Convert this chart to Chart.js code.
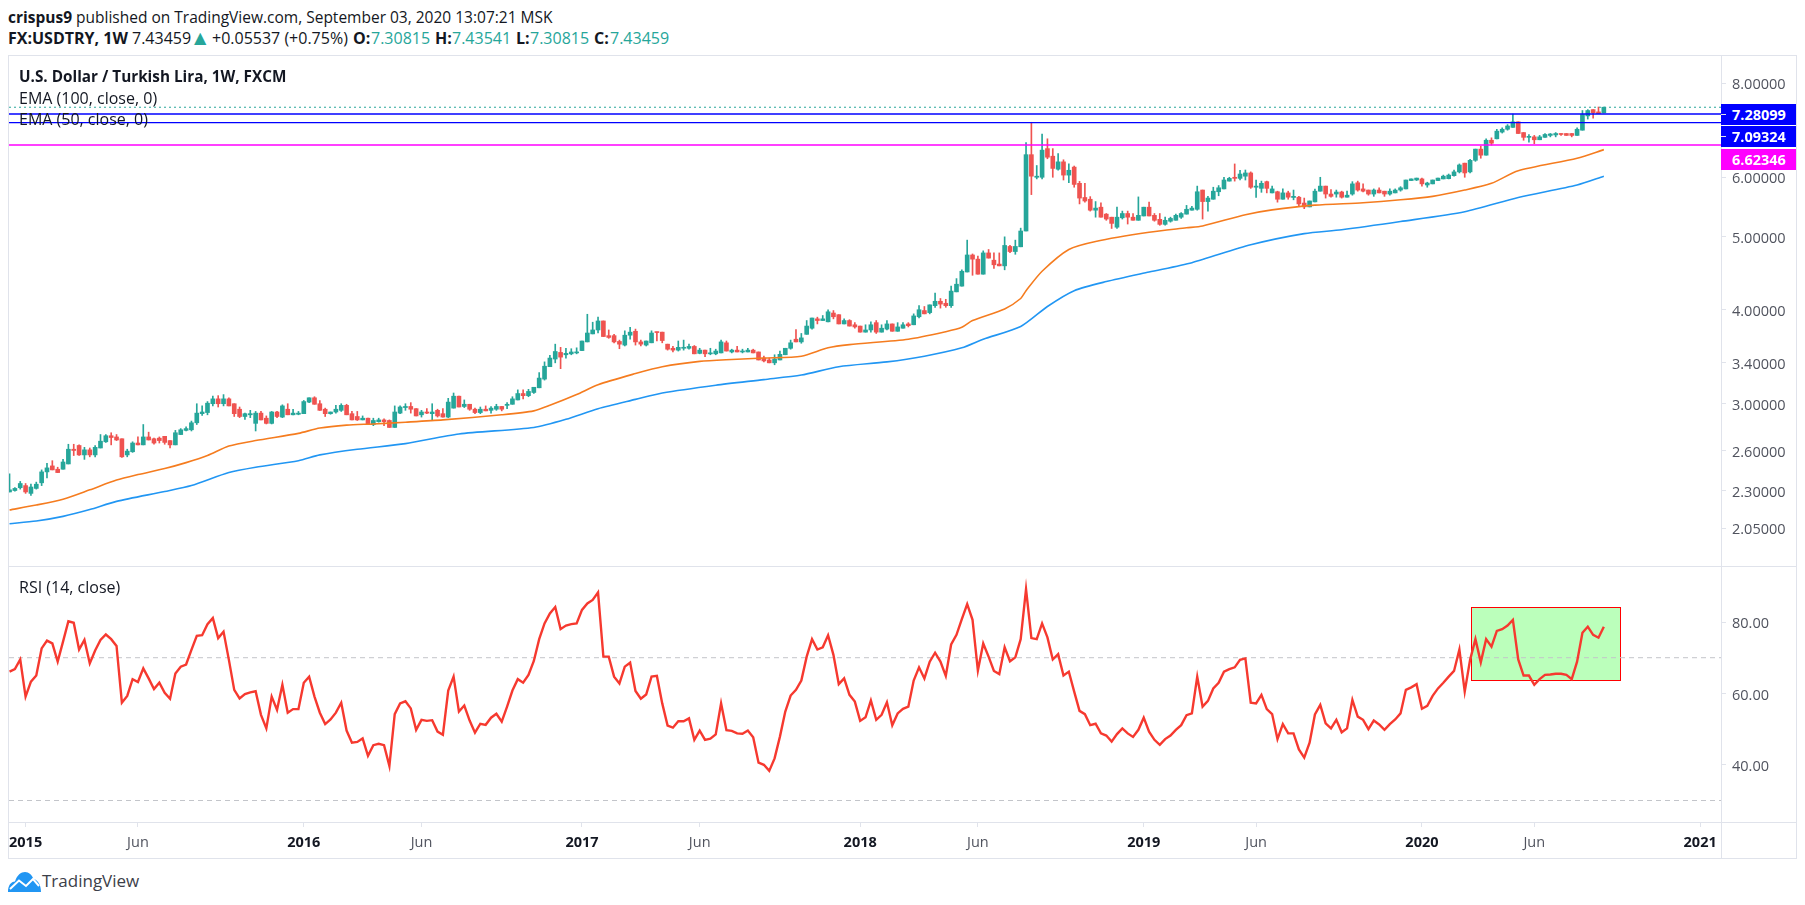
<!DOCTYPE html>
<html>
<head>
<meta charset="utf-8">
<title>USDTRY weekly</title>
<script src="https://cdn.jsdelivr.net/npm/chart.js@4/dist/chart.umd.min.js"></script>
<style>
  html, body { margin: 0; background: #fff; }
  body { width: 1805px; height: 905px; position: relative; overflow: hidden; font-family: "Open Sans", sans-serif; color: #131722; }
  .t { position: absolute; white-space: nowrap; line-height: 20px; font-size: 16px; }
  .b { font-weight: 700; }
  .up { color: #26a69a; }
  .rule { position: absolute; background: #e0e3eb; }
  canvas { position: absolute; left: 0; }
  .tag { position: absolute; left: 1721px; width: 75px; height: 21px; color: #fff; font-weight: 700; font-size: 14.5px; line-height: 21px; text-indent: 11px; }
  .tag i { position: absolute; left: 0; top: 10px; width: 5px; height: 1px; background: #e0e3eb; }
</style>
</head>
<body>

<div class="rule" style="left:8px;top:55px;width:1789px;height:1px"></div>
<div class="rule" style="left:8px;top:566px;width:1789px;height:1px"></div>
<div class="rule" style="left:8px;top:822px;width:1789px;height:1px"></div>
<div class="rule" style="left:8px;top:858px;width:1789px;height:1px"></div>
<div class="rule" style="left:8px;top:55px;width:1px;height:804px"></div>
<div class="rule" style="left:1721px;top:55px;width:1px;height:804px"></div>
<div class="rule" style="left:1796px;top:55px;width:1px;height:804px"></div>

<canvas id="price"></canvas>
<canvas id="rsi"></canvas>

<div class="t" style="left:8px;top:7px;font-size:15.5px"><span class="b">crispus9</span> published on TradingView.com, September 03, 2020 13:07:21 MSK</div>
<div class="t b" style="left:8px;top:28px">FX:USDTRY, 1W</div>
<div class="t" style="left:132px;top:28px">7.43459</div>
<div class="t up" style="left:194px;top:28px;font-family:'DejaVu Sans'">▲</div>
<div class="t" style="left:212px;top:28px">+0.05537 (+0.75%)</div>
<div class="t b" style="left:353px;top:28px">O:</div><div class="t up" style="left:371px;top:28px">7.30815</div>
<div class="t b" style="left:435px;top:28px">H:</div><div class="t up" style="left:452px;top:28px">7.43541</div>
<div class="t b" style="left:516px;top:28px">L:</div><div class="t up" style="left:530px;top:28px">7.30815</div>
<div class="t b" style="left:594px;top:28px">C:</div><div class="t up" style="left:610px;top:28px">7.43459</div>

<div class="t b" style="left:19px;top:66px;font-size:15.3px">U.S. Dollar / Turkish Lira, 1W, FXCM</div>
<div class="t" style="left:19px;top:88px">EMA (100, close, 0)</div>
<div class="t" style="left:19px;top:109px">EMA (50, close, 0)</div>
<div class="t" style="left:19px;top:577px">RSI (14, close)</div>

<div class="tag" style="top:104px;background:#0000ff"><i></i>7.28099</div>
<div class="tag" style="top:126px;background:#0000ff"><i></i>7.09324</div>
<div class="tag" style="top:149px;background:#ff00ff">6.62346</div>

<svg style="position:absolute;left:8px;top:872px" width="33" height="20" viewBox="0 0 33 20">
  <path d="M0 20 C0 13 3 10 7 9.5 C9 3 13 0 17 0 C21 0 24 3 25.5 7 C30 8 33 13 33 20 Z" fill="#2196f3"/>
  <path d="M2 17 L11 8.5 L18 14 L25 7 L31 14" fill="none" stroke="#fff" stroke-width="2"/>
</svg>
<div class="t" style="left:42px;top:871px;font-size:17px;color:#3c4049">TradingView</div>

<script>
// ── weekly candles, Dec 2014 → Aug 2020, one value per week ──
const opens = [
  2.29,2.30,2.32,2.335,2.28,2.315,2.355,2.435,2.48,2.455,
  2.455,2.495,2.61,2.64,2.565,2.605,2.565,2.62,2.67,2.72,
  2.71,2.695,2.565,2.59,2.66,2.645,2.71,2.695,2.70,2.715,
  2.68,2.645,2.73,2.765,2.77,2.83,2.91,2.92,3.00,3.045,
  3.00,3.045,3.00,2.95,2.885,2.90,2.825,2.915,2.87,2.825,
  2.925,2.88,2.95,2.90,2.905,2.91,3.015,3.055,3.00,2.95,
  2.91,2.925,2.94,2.985,2.91,2.885,2.855,2.87,2.815,2.84,
  2.855,2.85,2.79,2.915,2.965,2.975,2.955,2.90,2.925,2.91,
  2.94,2.91,2.88,2.96,3.07,2.975,2.995,2.95,2.92,2.95,
  2.94,2.95,2.975,2.985,2.995,3.035,3.095,3.075,3.105,3.15,
  3.235,3.36,3.44,3.51,3.485,3.495,3.505,3.53,3.625,3.715,
  3.76,3.865,3.695,3.695,3.63,3.59,3.70,3.745,3.625,3.59,
  3.615,3.735,3.735,3.60,3.555,3.535,3.555,3.555,3.575,3.50,
  3.535,3.495,3.495,3.505,3.615,3.515,3.535,3.515,3.515,3.535,
  3.515,3.45,3.43,3.40,3.43,3.485,3.555,3.655,3.625,3.71,
  3.78,3.89,3.87,3.855,3.96,3.94,3.83,3.87,3.82,3.805,
  3.735,3.76,3.845,3.735,3.77,3.83,3.745,3.78,3.83,3.82,
  3.915,3.99,3.965,4.05,4.105,4.08,4.05,4.225,4.30,4.49,
  4.73,4.67,4.46,4.76,4.655,4.60,4.575,4.855,4.78,4.85,
  5.09,6.43,6.00,6.00,6.55,6.40,6.15,6.29,6.04,6.19,
  5.89,5.64,5.61,5.425,5.475,5.36,5.31,5.15,5.30,5.37,
  5.31,5.26,5.33,5.475,5.34,5.275,5.195,5.245,5.26,5.31,
  5.36,5.425,5.44,5.77,5.57,5.61,5.74,5.79,5.93,6.00,
  5.98,6.02,6.08,5.82,5.80,5.92,5.72,5.74,5.61,5.72,
  5.64,5.645,5.545,5.48,5.565,5.75,5.84,5.70,5.70,5.735,
  5.645,5.70,5.90,5.79,5.77,5.70,5.77,5.75,5.70,5.72,
  5.77,5.79,5.94,5.95,5.97,5.86,5.88,5.94,5.97,5.975,
  6.03,6.10,6.265,6.10,6.32,6.54,6.42,6.72,6.75,6.89,
  6.95,6.99,7.11,6.88,6.78,6.79,6.73,6.78,6.82,6.83,
  6.86,6.86,6.86,6.82,6.93,7.24,7.38,7.33,7.30815
];
const highs = [
  2.42,2.32,2.365,2.35,2.345,2.36,2.45,2.50,2.52,2.47,
  2.53,2.65,2.65,2.645,2.625,2.62,2.64,2.73,2.73,2.745,
  2.73,2.695,2.61,2.67,2.71,2.815,2.75,2.70,2.71,2.715,
  2.68,2.765,2.78,2.795,2.845,3.00,2.98,3.02,3.07,3.075,
  3.085,3.055,3.00,2.97,2.915,2.94,2.93,2.93,2.89,2.93,
  2.93,2.99,3.00,2.95,2.93,3.03,3.055,3.065,3.03,2.96,
  2.925,2.985,3.00,2.995,2.93,2.93,2.89,2.87,2.87,2.87,
  2.865,2.855,2.98,2.98,3.00,3.01,2.955,2.94,2.955,3.00,
  2.95,2.955,3.05,3.10,3.07,3.035,2.995,2.96,2.97,2.98,
  2.975,2.995,2.975,3.01,3.065,3.13,3.13,3.135,3.155,3.30,
  3.41,3.48,3.60,3.565,3.555,3.55,3.56,3.635,3.945,3.85,
  3.91,3.865,3.76,3.71,3.645,3.75,3.79,3.77,3.645,3.635,
  3.75,3.735,3.735,3.60,3.575,3.635,3.645,3.60,3.585,3.555,
  3.535,3.555,3.545,3.645,3.635,3.545,3.575,3.545,3.555,3.545,
  3.515,3.47,3.45,3.485,3.525,3.555,3.645,3.765,3.72,3.87,
  3.90,3.91,3.93,4.00,3.99,3.94,3.89,3.88,3.845,3.805,
  3.82,3.855,3.87,3.82,3.87,3.83,3.845,3.845,3.845,3.95,
  4.05,4.04,4.06,4.21,4.14,4.13,4.30,4.40,4.52,4.95,
  4.745,4.715,4.79,4.81,4.76,4.76,5.00,4.87,4.95,5.135,
  6.67,7.10,6.22,6.85,6.75,6.55,6.45,6.33,6.25,6.21,
  5.925,5.89,5.655,5.57,5.55,5.37,5.31,5.475,5.41,5.41,
  5.37,5.65,5.475,5.56,5.37,5.37,5.31,5.31,5.36,5.385,
  5.505,5.49,5.84,5.77,5.66,5.82,5.85,6.00,6.00,6.25,
  6.13,6.135,6.10,5.95,5.93,5.93,5.84,5.75,5.79,5.75,
  5.77,5.66,5.63,5.58,5.785,6.00,5.84,5.78,5.77,5.75,
  5.75,5.92,5.93,5.88,5.77,5.79,5.81,5.75,5.79,5.79,
  5.83,5.95,5.97,5.985,5.985,5.91,5.95,5.985,6.04,6.06,
  6.135,6.25,6.265,6.34,6.54,6.60,6.75,6.77,6.95,6.98,
  7.05,7.28,7.11,6.88,6.84,6.82,6.82,6.86,6.86,6.88,
  6.86,6.86,6.86,6.98,7.36,7.38,7.38,7.44,7.43541
];
const lows = [
  2.29,2.295,2.31,2.28,2.265,2.31,2.335,2.39,2.45,2.43,
  2.455,2.495,2.56,2.56,2.53,2.55,2.55,2.62,2.665,2.645,
  2.68,2.545,2.55,2.585,2.645,2.645,2.685,2.65,2.66,2.65,
  2.62,2.645,2.73,2.76,2.76,2.815,2.895,2.90,2.98,2.97,
  2.98,2.98,2.885,2.875,2.86,2.875,2.76,2.855,2.82,2.82,
  2.875,2.875,2.90,2.90,2.90,2.91,3.01,2.995,2.94,2.885,
  2.905,2.915,2.93,2.90,2.855,2.85,2.855,2.815,2.805,2.835,
  2.805,2.79,2.79,2.91,2.94,2.915,2.89,2.88,2.91,2.855,
  2.88,2.88,2.875,2.96,2.97,2.965,2.94,2.91,2.91,2.935,
  2.915,2.94,2.935,2.955,2.995,3.035,3.045,3.065,3.095,3.15,
  3.225,3.36,3.40,3.34,3.45,3.485,3.495,3.53,3.625,3.715,
  3.725,3.685,3.665,3.615,3.55,3.58,3.655,3.59,3.58,3.58,
  3.615,3.635,3.615,3.535,3.515,3.525,3.535,3.545,3.495,3.495,
  3.465,3.485,3.485,3.505,3.525,3.505,3.515,3.505,3.515,3.505,
  3.43,3.41,3.40,3.38,3.43,3.485,3.545,3.625,3.61,3.71,
  3.77,3.83,3.87,3.855,3.89,3.83,3.83,3.805,3.78,3.735,
  3.735,3.735,3.72,3.735,3.76,3.745,3.745,3.78,3.795,3.82,
  3.90,3.95,3.95,4.03,4.02,4.03,4.03,4.225,4.30,4.49,
  4.445,4.46,4.46,4.685,4.54,4.575,4.52,4.765,4.74,4.85,
  5.09,5.69,5.97,5.97,6.35,6.00,6.13,5.95,5.90,5.82,
  5.53,5.56,5.41,5.31,5.31,5.26,5.13,5.13,5.28,5.20,
  5.26,5.26,5.33,5.33,5.245,5.18,5.18,5.23,5.26,5.29,
  5.36,5.425,5.425,5.28,5.41,5.61,5.67,5.79,5.93,5.93,
  5.95,5.95,5.80,5.64,5.73,5.72,5.72,5.56,5.61,5.61,
  5.60,5.50,5.45,5.48,5.565,5.75,5.63,5.645,5.645,5.63,
  5.645,5.68,5.75,5.735,5.68,5.66,5.72,5.66,5.68,5.72,
  5.75,5.79,5.94,5.94,5.84,5.82,5.88,5.94,5.97,5.97,
  6.02,6.08,6.00,6.08,6.30,6.36,6.42,6.62,6.75,6.87,
  6.93,6.99,6.86,6.72,6.68,6.65,6.73,6.78,6.79,6.79,
  6.82,6.82,6.79,6.82,6.93,7.17,7.19,7.29,7.30815
];
const closes = [
  2.305,2.315,2.35,2.29,2.325,2.345,2.435,2.465,2.45,2.43,
  2.51,2.61,2.60,2.565,2.605,2.565,2.625,2.675,2.72,2.705,
  2.685,2.55,2.595,2.66,2.645,2.71,2.685,2.66,2.68,2.665,
  2.645,2.745,2.77,2.78,2.83,2.915,2.925,3.005,3.045,3.00,
  3.045,2.98,2.91,2.885,2.91,2.91,2.915,2.855,2.825,2.925,
  2.885,2.98,2.90,2.915,2.915,3.02,3.055,2.995,2.94,2.91,
  2.925,2.95,2.985,2.90,2.855,2.855,2.87,2.815,2.85,2.855,
  2.84,2.79,2.925,2.97,2.975,2.95,2.89,2.925,2.915,2.925,
  2.89,2.88,3.015,3.07,2.97,2.995,2.95,2.92,2.95,2.935,
  2.96,2.975,2.95,2.995,3.045,3.095,3.075,3.115,3.155,3.245,
  3.365,3.45,3.52,3.46,3.50,3.515,3.515,3.635,3.725,3.76,
  3.865,3.685,3.675,3.625,3.60,3.70,3.735,3.625,3.60,3.635,
  3.725,3.73,3.64,3.545,3.535,3.565,3.565,3.575,3.495,3.535,
  3.495,3.505,3.525,3.625,3.525,3.535,3.515,3.525,3.535,3.505,
  3.43,3.42,3.40,3.44,3.49,3.555,3.615,3.625,3.67,3.805,
  3.90,3.87,3.89,3.975,3.915,3.83,3.87,3.805,3.795,3.735,
  3.76,3.82,3.735,3.78,3.83,3.745,3.795,3.82,3.81,3.925,
  4.00,3.95,4.06,4.105,4.07,4.05,4.235,4.325,4.50,4.73,
  4.67,4.46,4.76,4.685,4.59,4.575,4.87,4.78,4.855,5.09,
  6.43,6.02,6.02,6.52,6.38,6.165,6.29,6.04,6.13,5.87,
  5.63,5.58,5.425,5.46,5.31,5.28,5.21,5.31,5.37,5.31,
  5.26,5.34,5.475,5.33,5.26,5.195,5.26,5.29,5.34,5.37,
  5.44,5.46,5.74,5.57,5.63,5.75,5.81,5.95,5.98,5.98,
  6.06,6.08,5.82,5.84,5.89,5.80,5.79,5.61,5.72,5.645,
  5.66,5.53,5.48,5.58,5.75,5.84,5.70,5.66,5.735,5.645,
  5.68,5.88,5.77,5.75,5.70,5.77,5.72,5.70,5.75,5.77,
  5.81,5.95,5.97,5.985,5.88,5.895,5.95,5.985,6.02,6.04,
  6.10,6.23,6.08,6.32,6.54,6.42,6.72,6.66,6.91,6.95,
  7.02,7.11,6.86,6.78,6.79,6.73,6.79,6.84,6.85,6.86,
  6.84,6.82,6.82,6.95,7.27,7.36,7.31,7.29,7.43459
];

// EMA lines, read at the weeks where the curve bends
const ema50Weeks = [0,5,10,15,20,24,29,33,37,41,46,54,58,63,68,74,81,92,98,101,106,110,117,122,129,135,141,148,153,157,168,175,178,180,186,189,190,193,198,203,213,220,223,231,236,244,253,260,266,272,277,282,293,298];
const ema50 = [2.167,2.20,2.24,2.305,2.375,2.415,2.46,2.505,2.56,2.635,2.68,2.74,2.785,2.81,2.82,2.835,2.855,2.90,2.935,2.985,3.085,3.18,3.29,3.36,3.415,3.435,3.45,3.47,3.56,3.595,3.655,3.74,3.79,3.87,4.01,4.14,4.24,4.50,4.81,4.93,5.07,5.14,5.17,5.35,5.43,5.51,5.55,5.60,5.66,5.77,5.89,6.12,6.36,6.53];
const ema100Weeks = [0,5,10,15,20,29,34,41,46,54,58,65,74,84,98,104,110,117,122,132,141,148,155,164,171,178,182,189,194,199,205,213,221,232,242,249,260,272,282,293,298];
const ema100 = [2.078,2.095,2.125,2.17,2.225,2.293,2.335,2.43,2.47,2.52,2.565,2.61,2.655,2.735,2.79,2.86,2.955,3.04,3.10,3.175,3.23,3.275,3.36,3.41,3.47,3.56,3.655,3.80,4.04,4.24,4.36,4.49,4.62,4.88,5.05,5.11,5.24,5.40,5.64,5.86,6.02];

// RSI (14), one value per week
const rsi = [
  66.1,66.8,69.5,59.1,63.3,65.0,72.6,74.8,74.0,68.9,
  74.5,80.2,79.8,72.3,75.0,68.4,72.0,75.0,76.5,75.2,
  73.3,57.4,59.3,64.0,63.2,67.0,64.2,61.2,63.0,60.2,
  58.5,65.6,67.5,68.1,72.2,76.1,76.3,79.4,81.1,75.5,
  77.3,69.4,61.0,58.6,59.8,60.3,60.6,54.0,50.2,59.1,
  55.4,62.4,54.6,55.6,55.6,63.0,64.7,59.1,54.6,51.4,
  52.7,54.6,57.4,49.6,46.2,46.4,47.4,42.5,45.5,45.9,
  45.5,39.7,54.2,57.2,57.8,55.8,49.8,52.6,52.3,52.5,
  49.3,48.4,60.8,64.7,54.9,56.6,52.4,49.0,51.5,51.2,
  53.2,54.3,52.1,56.3,60.8,64.0,63.0,65.2,69.1,75.2,
  79.6,82.4,84.2,78.0,79.0,79.4,79.6,83.4,85.2,86.2,
  88.3,70.3,70.3,64.7,62.8,67.5,68.6,60.7,58.5,59.7,
  64.7,64.9,57.2,51.0,50.4,52.2,52.2,53.0,47.0,49.6,
  47.0,47.3,48.5,57.2,49.7,49.5,48.8,48.7,49.6,47.7,
  40.6,40.0,38.3,41.8,47.9,54.9,59.4,61.0,63.6,70.3,
  75.2,72.3,72.9,76.3,70.8,62.6,64.2,59.6,57.7,52.3,
  53.3,58.0,52.6,54.0,57.5,51.1,54.4,55.7,56.3,63.6,
  67.3,64.2,68.9,71.4,68.9,64.9,73.7,76.4,80.8,85.0,
  80.6,66.4,74.0,70.3,66.3,65.4,72.9,69.0,70.1,75.2,
  89.2,75.5,75.2,79.6,75.7,69.5,71.0,65.0,66.1,60.5,
  55.1,54.2,51.1,51.5,48.8,48.2,46.5,48.6,50.2,48.8,
  47.8,49.8,53.2,49.3,47.0,45.6,47.2,48.2,49.8,51.1,
  53.9,54.4,64.7,56.3,57.9,61.4,63.0,66.1,66.8,67.3,
  69.4,69.8,57.4,57.2,59.6,55.6,54.2,47.2,51.4,48.8,
  48.8,44.3,42.0,46.2,54.1,56.8,51.6,50.2,52.6,49.1,
  50.2,58.2,53.5,52.6,50.0,52.4,51.3,49.8,51.4,52.7,
  54.4,61.0,61.7,62.6,55.7,56.5,59.3,61.4,63.0,64.7,
  66.3,72.3,60.5,69.4,75.2,68.7,75.2,73.1,77.5,78.0,
  79.0,80.6,69.5,65.0,65.0,62.4,64.0,65.2,65.3,65.5,
  65.5,65.2,64.0,68.9,77.0,78.7,76.4,75.6,78.7
];

// drawn levels, axis ticks, highlighted RSI box
const lastPrice = 7.43459;
const blueLevels = [7.28099, 7.09324];
const pinkLevel = 6.62346;
const rsiBands = [70, 30];
const priceTicks = [2.05, 2.3, 2.6, 3, 3.4, 4, 5, 6, 8];
const rsiTicks = [40, 60, 80];
const timeTickWeeks = [3, 24, 55, 77, 107, 129, 159, 181, 212, 233, 264, 285, 316];
const timeTickLabels = ['2015', 'Jun', '2016', 'Jun', '2017', 'Jun', '2018', 'Jun', '2019', 'Jun', '2020', 'Jun', '2021'];
const boxWeeks = [273.1, 301.1];
const boxRsi = [84.1, 63.7];

const UP = '#26a69a', DOWN = '#ef5350', RULE = '#e0e3eb', FONT = '"Open Sans", sans-serif';
const X_MIN = -0.1, X_MAX = 319.9;   // same window on both panes

Chart.defaults.font.family = FONT;
Chart.defaults.animation = false;
Chart.defaults.devicePixelRatio = 1;
Chart.defaults.responsive = false;

const candleColor = closes.map((c, i) => c >= opens[i] ? UP : DOWN);
const flat = (y) => [{ x: X_MIN, y }, { x: X_MAX, y }];
const level = (y, color, dash) => ({
  type: 'line', data: flat(y), borderColor: color, borderWidth: dash ? 1 : 1.4, borderDash: dash || [],
  pointRadius: 0, order: 0,
});
const emaLine = (weeks, vals, color) => ({
  type: 'line', data: weeks.map((w, i) => ({ x: w, y: vals[i] })), borderColor: color,
  borderWidth: 1.6, pointRadius: 0, tension: 0.25, order: 1,
});

const sharedX = { type: 'linear', min: X_MIN, max: X_MAX, offset: false };
const rightAxis = (ticks, fmt) => ({
  position: 'right',
  border: { display: false },
  grid: { drawOnChartArea: false, drawTicks: true, tickLength: 5, tickColor: RULE },
  ticks: { autoSkip: false, padding: 6, labelOffset: 2, color: '#50535e', font: { size: 14.5 }, callback: fmt },
  afterBuildTicks: s => { s.ticks = ticks.map(value => ({ value })); },
  afterFit: s => { s.width = 75; s.paddingTop = 0; s.paddingBottom = 0; },
});

// ── Price pane ──
const priceCanvas = document.getElementById('price');
priceCanvas.style.top = '56px';
priceCanvas.width = 1796; priceCanvas.height = 510;
new Chart(priceCanvas, {
  type: 'bar',
  data: { datasets: [
    level(lastPrice, UP, [2, 3]),
    level(blueLevels[0], '#0000ff'),
    level(blueLevels[1], '#0000ff'),
    level(pinkLevel, '#ff00ff'),
    emaLine(ema50Weeks, ema50, '#f57c1f'),
    emaLine(ema100Weeks, ema100, '#2196f3'),
    {
      data: closes.map((c, i) => ({ x: i, y: [opens[i], c] })),
      backgroundColor: candleColor, barThickness: 4, minBarLength: 1, grouped: false, order: 2,
    },
    {
      data: highs.map((h, i) => ({ x: i, y: [lows[i], h] })),
      backgroundColor: candleColor, barThickness: 1, grouped: false, order: 3,
    },
  ] },
  options: {
    layout: { padding: { left: 9 } },
    plugins: { legend: { display: false }, tooltip: { enabled: false } },
    scales: {
      x: { ...sharedX, display: false },
      y: { type: 'logarithmic', min: 1.8256, max: 8.697, ...rightAxis(priceTicks, v => Number(v).toFixed(5)) },
    },
  },
});

// green box behind the RSI line
const boxPlugin = {
  id: 'rsiBox',
  beforeDatasetsDraw(chart) {
    const { ctx, scales: { x, y } } = chart;
    const l = Math.round(x.getPixelForValue(boxWeeks[0])) + 0.5, r = Math.round(x.getPixelForValue(boxWeeks[1])) + 0.5;
    const t = Math.round(y.getPixelForValue(boxRsi[0])) + 0.5, b = Math.round(y.getPixelForValue(boxRsi[1])) + 0.5;
    ctx.save();
    ctx.fillStyle = '#bbffbb';
    ctx.strokeStyle = '#ff0000';
    ctx.lineWidth = 1;
    ctx.fillRect(l, t, r - l, b - t);
    ctx.strokeRect(l, t, r - l, b - t);
    ctx.restore();
  },
};

// ── RSI pane ──
const rsiCanvas = document.getElementById('rsi');
rsiCanvas.style.top = '566px';
rsiCanvas.width = 1796; rsiCanvas.height = 292;
new Chart(rsiCanvas, {
  type: 'line',
  plugins: [boxPlugin],
  data: { datasets: [
    { data: rsi.map((v, i) => ({ x: i, y: v })), borderColor: '#f6392f', borderWidth: 2.4, pointRadius: 0, tension: 0, order: 0 },
    { ...level(rsiBands[0], '#c3c5ca', [5, 4]), order: 1 },
    { ...level(rsiBands[1], '#c3c5ca', [5, 4]), order: 1 },
  ] },
  options: {
    layout: { padding: { left: 9 } },
    plugins: { legend: { display: false }, tooltip: { enabled: false } },
    scales: {
      x: {
        ...sharedX,
        border: { display: false },
        grid: { drawOnChartArea: false, drawTicks: true, tickLength: 5, tickColor: RULE },
        ticks: {
          autoSkip: false, maxRotation: 0, padding: 7,
          color: c => /^20/.test(timeTickLabels[c.index]) ? '#131722' : '#50535e',
          font: c => ({ size: 14.5, weight: /^20/.test(timeTickLabels[c.index]) ? 'bold' : 'normal' }),
          callback: (v, i) => timeTickLabels[i],
        },
        afterBuildTicks: s => { s.ticks = timeTickWeeks.map(value => ({ value })); },
        afterFit: s => { s.height = 36; s.paddingLeft = 0; s.paddingRight = 0; },
      },
      y: { type: 'linear', min: 23.98, max: 95.69, ...rightAxis(rsiTicks, v => Number(v).toFixed(2)) },
    },
  },
});
</script>
</body>
</html>
